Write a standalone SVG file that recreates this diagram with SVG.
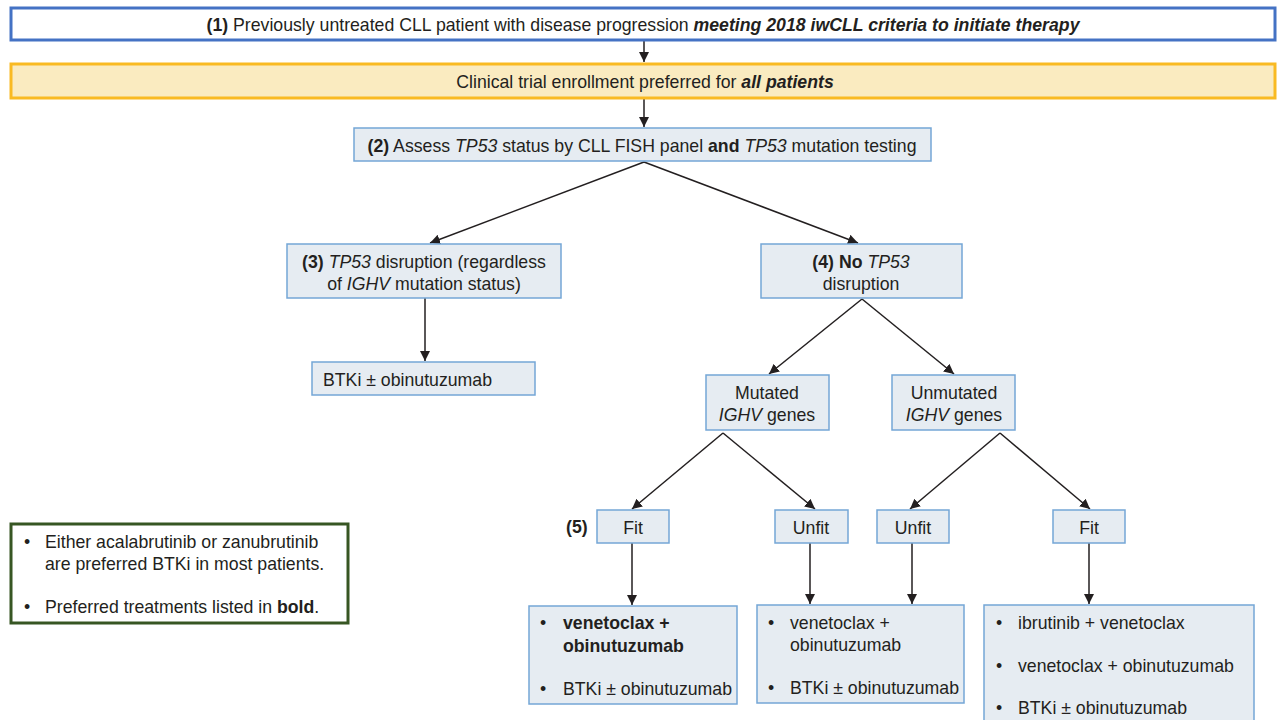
<svg xmlns="http://www.w3.org/2000/svg" width="1277" height="720" viewBox="0 0 1277 720">
<style>
text{font-family:"Liberation Sans",Arial,sans-serif;font-size:17.7px;fill:#231F20}
.c{text-anchor:middle}
.b{font-weight:bold}
.i{font-style:italic}
.bi{font-weight:bold;font-style:italic}
.box{fill:#E6ECF2;stroke:#74A6D6;stroke-width:1.5}
.ln{stroke:#231F20;stroke-width:1.5;fill:none;marker-end:url(#ah)}
</style>
<defs>
<marker id="ah" viewBox="0 0 10 10" refX="10" refY="5" markerWidth="10" markerHeight="10" markerUnits="userSpaceOnUse" orient="auto">
<path d="M0,0 L10,5 L0,10 Z" fill="#231F20"/>
</marker>
</defs>
<rect width="1277" height="720" fill="#FFFFFF"/>
<g id="connectors">
<line class="ln" x1="644" y1="40" x2="644" y2="62"/>
<line class="ln" x1="644" y1="98" x2="644" y2="127"/>
<line class="ln" x1="644" y1="162" x2="430" y2="243"/>
<line class="ln" x1="644" y1="162" x2="858" y2="243"/>
<line class="ln" x1="425" y1="298" x2="425" y2="361"/>
<line class="ln" x1="862" y1="299" x2="769" y2="374"/>
<line class="ln" x1="862" y1="299" x2="954" y2="374"/>
<line class="ln" x1="723" y1="433" x2="632" y2="509"/>
<line class="ln" x1="723" y1="433" x2="815" y2="509"/>
<line class="ln" x1="1000" y1="433" x2="910" y2="509"/>
<line class="ln" x1="1000" y1="433" x2="1090" y2="509"/>
<line class="ln" x1="632" y1="543" x2="632" y2="605"/>
<line class="ln" x1="810" y1="543" x2="810" y2="604"/>
<line class="ln" x1="912" y1="543" x2="912" y2="604"/>
<line class="ln" x1="1089" y1="543" x2="1089" y2="604"/>
</g>
<g id="n1">
<rect x="11" y="8" width="1264" height="32" fill="#FFFFFF" stroke="#4472C4" stroke-width="3"/>
<text class="c" x="643" y="31"><tspan class="b">(1)</tspan> Previously untreated CLL patient with disease progression <tspan class="bi">meeting 2018 iwCLL criteria to initiate therapy</tspan></text>
</g>
<g id="n_trial">
<rect x="11" y="64" width="1264" height="34" fill="#FAEBC0" stroke="#F9BA22" stroke-width="3"/>
<text class="c" x="645" y="88">Clinical trial enrollment preferred for <tspan class="bi">all patients</tspan></text>
</g>
<g id="n2">
<rect class="box" x="354" y="128" width="577" height="33"/>
<text class="c" x="642" y="152"><tspan class="b">(2)</tspan> Assess <tspan class="i">TP53</tspan> status by CLL FISH panel <tspan class="b">and</tspan> <tspan class="i">TP53</tspan> mutation testing</text>
</g>
<g id="n3">
<rect class="box" x="287" y="244" width="274" height="54"/>
<text class="c" x="424" y="268"><tspan class="b">(3)</tspan> <tspan class="i">TP53</tspan> disruption (regardless</text>
<text class="c" x="424" y="290">of <tspan class="i">IGHV</tspan> mutation status)</text>
</g>
<g id="n4">
<rect class="box" x="761" y="244" width="201" height="54"/>
<text class="c" x="861" y="268"><tspan class="b">(4) No</tspan> <tspan class="i">TP53</tspan></text>
<text class="c" x="861" y="290">disruption</text>
</g>
<g id="n_btki">
<rect class="box" x="312" y="362" width="223" height="33"/>
<text x="323" y="386">BTKi ± obinutuzumab</text>
</g>
<g id="n_mut">
<rect class="box" x="706" y="375" width="123" height="55"/>
<text class="c" x="767" y="399">Mutated</text>
<text class="c" x="767" y="421"><tspan class="i">IGHV</tspan> genes</text>
</g>
<g id="n_unmut">
<rect class="box" x="892" y="375" width="123" height="55"/>
<text class="c" x="954" y="399">Unmutated</text>
<text class="c" x="954" y="421"><tspan class="i">IGHV</tspan> genes</text>
</g>
<g id="n5">
<text class="b" x="566" y="533">(5)</text>
<rect class="box" x="597" y="510" width="72" height="33"/>
<text class="c" x="633" y="534">Fit</text>
</g>
<g id="n_unfit1">
<rect class="box" x="775" y="510" width="73" height="33"/>
<text class="c" x="811" y="534">Unfit</text>
</g>
<g id="n_unfit2">
<rect class="box" x="877" y="510" width="72" height="33"/>
<text class="c" x="913" y="534">Unfit</text>
</g>
<g id="n_fit2">
<rect class="box" x="1053" y="510" width="72" height="33"/>
<text class="c" x="1089" y="534">Fit</text>
</g>
<g id="r1">
<rect class="box" x="529" y="606" width="208" height="98"/>
<text x="540" y="629">•</text>
<text class="b" x="563" y="629">venetoclax +</text>
<text class="b" x="563" y="652">obinutuzumab</text>
<text x="540" y="695">•</text>
<text x="563" y="695">BTKi ± obinutuzumab</text>
</g>
<g id="r2">
<rect class="box" x="757" y="605" width="207" height="98"/>
<text x="768" y="629">•</text>
<text x="790" y="629">venetoclax +</text>
<text x="790" y="651">obinutuzumab</text>
<text x="768" y="694">•</text>
<text x="790" y="694">BTKi ± obinutuzumab</text>
</g>
<g id="r3">
<rect class="box" x="984" y="605" width="270" height="120"/>
<text x="996" y="629">•</text>
<text x="1018" y="629">ibrutinib + venetoclax</text>
<text x="996" y="672">•</text>
<text x="1018" y="672">venetoclax + obinutuzumab</text>
<text x="996" y="714">•</text>
<text x="1018" y="714">BTKi ± obinutuzumab</text>
</g>
<g id="legend">
<rect x="11" y="524" width="337" height="99" fill="#FFFFFF" stroke="#375623" stroke-width="3"/>
<text x="24" y="548">•</text>
<text x="45" y="548">Either acalabrutinib or zanubrutinib</text>
<text x="45" y="570">are preferred BTKi in most patients.</text>
<text x="24" y="613">•</text>
<text x="45" y="613">Preferred treatments listed in <tspan class="b">bold</tspan>.</text>
</g>
</svg>
